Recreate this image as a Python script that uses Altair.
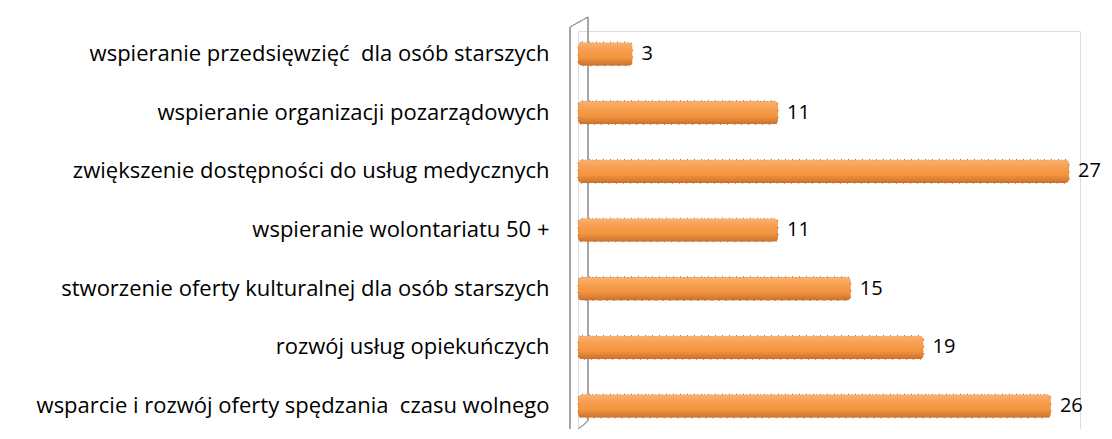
import altair as alt
import pandas as pd

categories = [
    "wspieranie przedsięwzięć\u00a0 dla osób starszych",
    "wspieranie organizacji pozarządowych",
    "zwiększenie dostępności do usług medycznych",
    "wspieranie wolontariatu 50 +",
    "stworzenie oferty kulturalnej dla osób starszych",
    "rozwój usług opiekuńczych",
    "wsparcie i rozwój oferty spędzania\u00a0 czasu wolnego",
]
values = [3, 11, 27, 11, 15, 19, 26]

df = pd.DataFrame({"cat": categories, "val": values})

grad = alt.LinearGradient(
    gradient="linear",
    x1=0, y1=0, x2=0, y2=1,
    stops=[
        alt.GradientStop(color="#F9B272", offset=0),
        alt.GradientStop(color="#F7A052", offset=0.3),
        alt.GradientStop(color="#F39440", offset=0.65),
        alt.GradientStop(color="#C8702C", offset=1),
    ],
)

FONT = "Open Sans"

yenc = alt.Y(
    "cat:N",
    sort=categories,
    title=None,
    scale=alt.Scale(paddingInner=0.6, paddingOuter=0.19),
    axis=alt.Axis(
        labelFont=FONT,
        labelFontSize=22,
        labelColor="#000000",
        labelPadding=20,
        labelLimit=700,
        ticks=False,
        domain=False,
        offset=9,
        grid=False,
    ),
)
xenc = alt.X(
    "val:Q",
    title=None,
    scale=alt.Scale(domain=[0, 27.6], nice=False),
    axis=None,
)

bars = alt.Chart(df).mark_bar(
    color=grad,
    stroke="#C8702C",
    strokeWidth=1.2,
    strokeDash=[1, 6],
    cornerRadius=4,
).encode(x=xenc, y=yenc)

labels = alt.Chart(df).mark_text(
    align="left", baseline="middle", dx=9, font=FONT, fontSize=20, color="#000000"
).encode(x=xenc, y=yenc, text="val:Q")

wall_color = "#A6A6A6"
back_wall = alt.Chart(df).mark_rule(color=wall_color, strokeWidth=1).encode(
    x=alt.value(10), y=alt.value(-14), y2=alt.value(390)
)
front_wall = alt.Chart(df).mark_rule(color=wall_color, strokeWidth=1).encode(
    x=alt.value(-8), y=alt.value(-4), y2=alt.value(405)
)
top_edge = alt.Chart(df).mark_rule(color=wall_color, strokeWidth=1).encode(
    x=alt.value(-8), x2=alt.value(10), y=alt.value(-4), y2=alt.value(-14)
)
bottom_edge = alt.Chart(df).mark_rule(color=wall_color, strokeWidth=1).encode(
    x=alt.value(-8), x2=alt.value(10), y=alt.value(405), y2=alt.value(390)
)

chart = (
    alt.layer(back_wall, front_wall, top_edge, bottom_edge, bars, labels)
    .properties(
        width=502,
        height=398,
        padding={"left": 570, "top": 23, "right": 24, "bottom": 0},
        autosize=alt.AutoSizeParams(type="none"),
    )
    .configure_view(strokeWidth=0, strokeOpacity=0)
    .configure(background="#FFFFFF")
)

chart.save("out.html", embed_options={"renderer": "svg", "actions": False})
